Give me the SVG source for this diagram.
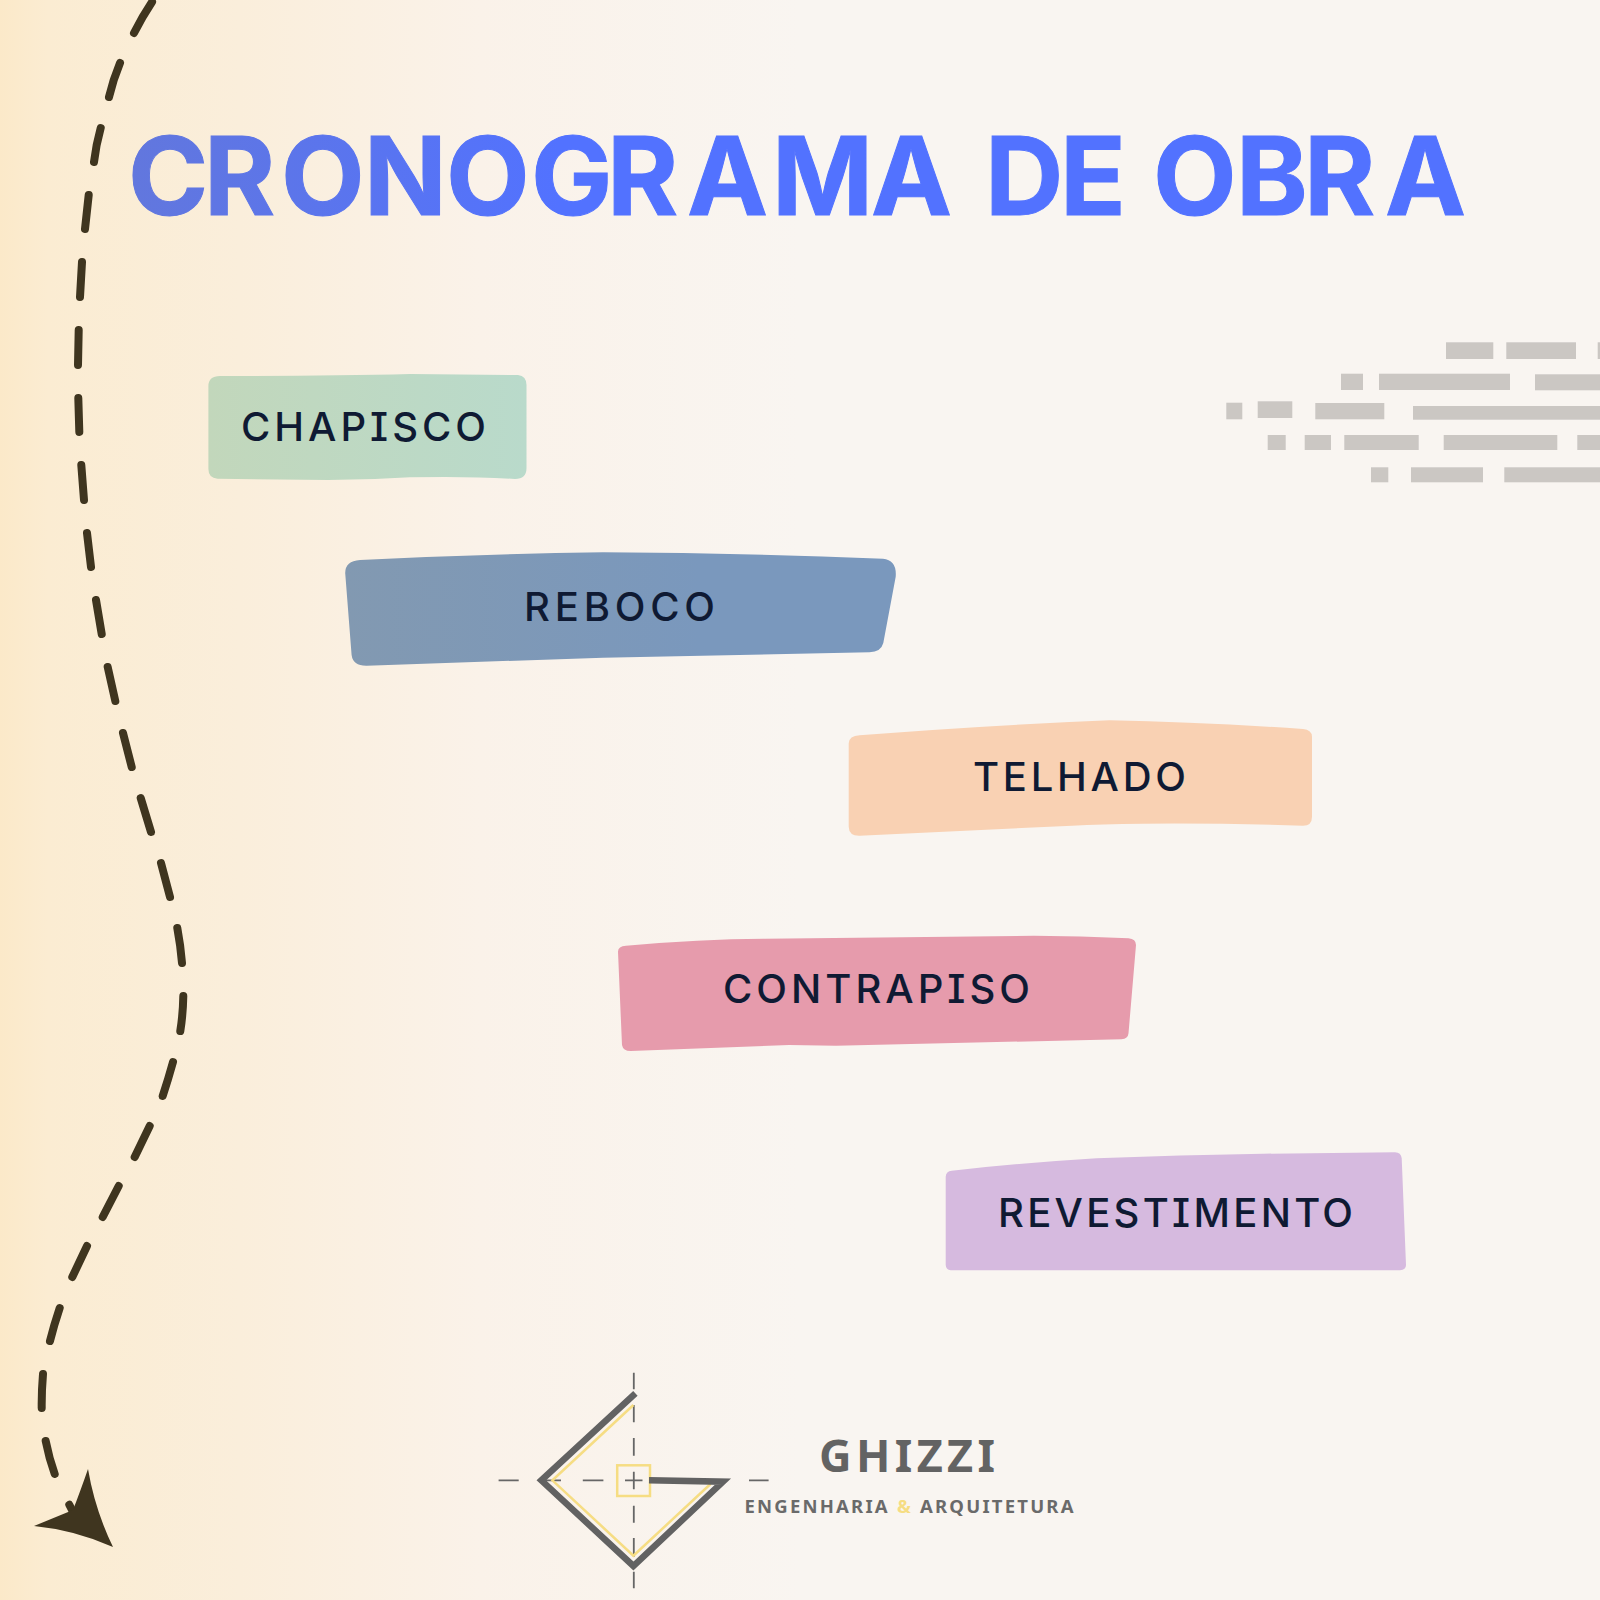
<svg xmlns="http://www.w3.org/2000/svg" width="1600" height="1600" viewBox="0 0 1600 1600">
<defs>
<linearGradient id="bg" x1="0" y1="0" x2="1600" y2="0" gradientUnits="userSpaceOnUse">
<stop offset="0" stop-color="#fbe9c9"/><stop offset="0.03" stop-color="#fbecd2"/><stop offset="0.15" stop-color="#faeedb"/><stop offset="0.3" stop-color="#faf2e9"/><stop offset="0.5" stop-color="#f9f5f1"/><stop offset="1" stop-color="#f9f5f1"/>
</linearGradient>
<linearGradient id="ttl" x1="128" y1="0" x2="560" y2="0" gradientUnits="userSpaceOnUse"><stop offset="0" stop-color="#6277dd"/><stop offset="1" stop-color="#5272ff"/></linearGradient>
<linearGradient id="g1" x1="208" y1="0" x2="527" y2="0" gradientUnits="userSpaceOnUse"><stop offset="0" stop-color="#c2d7bb"/><stop offset="1" stop-color="#b9dacb"/></linearGradient>
<linearGradient id="g2" x1="345" y1="0" x2="700" y2="0" gradientUnits="userSpaceOnUse"><stop offset="0" stop-color="#8299b1"/><stop offset="1" stop-color="#7a98bd"/></linearGradient>
</defs>
<style>
.lbl{font-family:"Inter","Liberation Sans",sans-serif;font-size:40px;fill:#0f1a33;font-weight:450;font-feature-settings:"cv08" 1}
.th{fill:none;stroke:#626262;stroke-width:6.5;stroke-linejoin:miter;stroke-linecap:butt}
.ye{fill:none;stroke:#f6dd83;stroke-width:2.5}
.cl{fill:none;stroke:#666;stroke-width:1.8}
.dash{fill:none;stroke:#3f351f;stroke-width:8;stroke-linecap:round}
</style>
<rect width="1600" height="1600" fill="url(#bg)"/>
<g id="title"><text y="215" font-family="Inter, 'Liberation Sans', sans-serif" font-weight="700" font-size="108.5" stroke="url(#ttl)" stroke-width="1" fill="url(#ttl)" x="128 204 281 364 446 531 607 687 772 871 960 985 1060 1120 1153 1236 1304 1385">CRONOGRAMA DE OBRA</text></g>
<g id="texture" fill="#cbc7c3">
<rect x="1446" y="342.3" width="47.3" height="16.7"/><rect x="1506.3" y="342.3" width="69.7" height="16.7"/><rect x="1597.7" y="342.3" width="2.3" height="16.7"/>
<rect x="1341" y="373.7" width="22" height="16.3"/><rect x="1379" y="373.7" width="131" height="16.3"/><rect x="1535" y="374.3" width="65" height="16"/>
<rect x="1226.3" y="402.7" width="16" height="16.6"/><rect x="1257.7" y="401.3" width="34.6" height="16.7"/><rect x="1315.3" y="403" width="69" height="16.3"/><rect x="1413" y="406" width="187" height="13.7"/>
<rect x="1267.7" y="435" width="18" height="15"/><rect x="1304.7" y="435" width="26.3" height="15"/><rect x="1344.3" y="435" width="74.4" height="15"/><rect x="1443.7" y="435" width="113.6" height="15"/><rect x="1577.3" y="435" width="22.7" height="15"/>
<rect x="1371" y="467.3" width="17.3" height="15"/><rect x="1411" y="467.3" width="72" height="15"/><rect x="1504.3" y="467.3" width="95.7" height="15"/>
</g>
<g id="connectors">
<path class="dash" d="M152,2 Q142,17 134,33 M120,63 Q113,80 109,97 M100.7,128 Q96,145 94,162 M88.7,195 L85,229 M82,262 L80,297 M78.7,330 L78,365 M78.3,398 L79.3,432 M81.3,465 L84,500 M87,533 L91,567 M96,600 L101.7,634 M107.7,667 L115.3,701 M123,733 L131.7,767 M140.7,798 L151,832 M161,863 L170,897 M177.3,928 Q180.5,945 182,963 M183.3,996 Q183,1014 180.3,1031 M173,1062 Q168,1080 162.7,1096 M149.7,1126 L134.7,1157 M118.7,1186 L102.7,1217 M87,1246 L72.3,1277 M59.7,1308 Q54,1325 50,1341 M43,1374 Q41.5,1392 41.7,1408 M45.7,1441 Q49,1458 54.7,1474 M69.3,1504.7 L72,1510"/>
<path fill="#3f351f" d="M88,1469 Q95,1510 113,1547 Q75,1530 34,1526 L73,1510 Q80,1492 88,1469 Z"/>
</g>
<g id="chapisco"><path fill="url(#g1)" d="M208.4,386 Q208.4,376 220,376 Q330,376 410,374 L518,375 Q526.5,376 526.5,385 L526.5,468 Q526.5,479 515,479 Q470,476 410,477.3 Q370,480 328,480 L217.5,478.7 Q208.4,478 208.4,469 Z"/><text class="lbl" x="241" y="441" textLength="245">CHAPISCO</text></g>
<g id="reboco"><path fill="url(#g2)" d="M345.2,573 Q345.2,561 360,560 Q480,554 603,552.3 Q740,553 883,558.7 Q897,560 895.7,576.7 L883.3,643 Q881,652 869.5,652.3 L603,657.7 L366.8,665.7 Q353,666 351.6,655 Z"/><text class="lbl" x="524" y="621" textLength="191">REBOCO</text></g>
<g id="telhado"><path fill="#f9d1b3" d="M848.7,743.3 Q849,736 859.6,735.3 Q990,725 1109.7,720.3 Q1200,722 1303,729 Q1312,730 1312,736.7 L1312,816.7 Q1312,825.7 1303,825.7 Q1220,823 1142.7,823.7 Q1100,824 1072,825.7 L859.6,835.7 Q849,836 848.7,826.7 Z"/><text class="lbl" x="973" y="790.7" textLength="213">TELHADO</text></g>
<g id="contrapiso"><path fill="#e69bac" d="M618,951.7 Q618,946 626,945.7 Q700,939 765,938.7 L1034,935.7 Q1080,936 1128.5,938.3 Q1136,939 1136,945 L1128.5,1033.3 Q1128,1039 1121.5,1039.3 L836,1045.7 L789,1045 L630.7,1051 Q623,1051 622,1045 Z"/><text class="lbl" x="723" y="1003" textLength="307">CONTRAPISO</text></g>
<g id="revestimento"><path fill="#d6badf" d="M945.7,1176.7 Q946,1171 951.7,1170.7 Q1020,1163 1096.7,1158.3 Q1180,1155 1263,1153.7 L1395,1152.3 Q1401,1152.5 1401.7,1158.3 L1406,1265 Q1406,1270 1400,1270.3 L950.7,1270.3 Q946,1270 945.7,1265 Z"/><text class="lbl" x="998" y="1226.7" textLength="355">REVESTIMENTO</text></g>
<g id="logo">
<path class="cl" d="M633.8,1372.7V1389.3 M633.8,1405V1422.3 M633.8,1438V1455.7 M633.8,1471.7V1489.3 M633.8,1505.7V1522.7 M633.8,1538V1556.7 M633.8,1571.7V1588.3 M498.6,1480.3H518.7 M541,1480.3H561 M582.8,1480.3H603.4 M625,1480.3H642.5 M749,1480.3H768.6"/>
<path class="ye" d="M633.4,1405 L552.4,1480.3 L633.4,1555.7 L710.5,1484"/>
<rect class="ye" x="617.2" y="1465.3" width="32.8" height="30.7"/>
<path class="th" d="M635.4,1393.3 L541.3,1480.3 L633.4,1566 L723,1481.7 L649,1480.3"/>
<text x="819" y="1471.5" font-family="'Noto Sans','Open Sans',sans-serif" font-weight="700" font-size="45" fill="#636363" textLength="176">GHIZZI</text>
<text x="744.5" y="1512.7" font-family="'Noto Sans','Open Sans',sans-serif" font-weight="700" font-size="18.5" fill="#6a6a6a" textLength="329">ENGENHARIA <tspan fill="#f6dd83">&amp;</tspan> ARQUITETURA</text>
</g>
</svg>
